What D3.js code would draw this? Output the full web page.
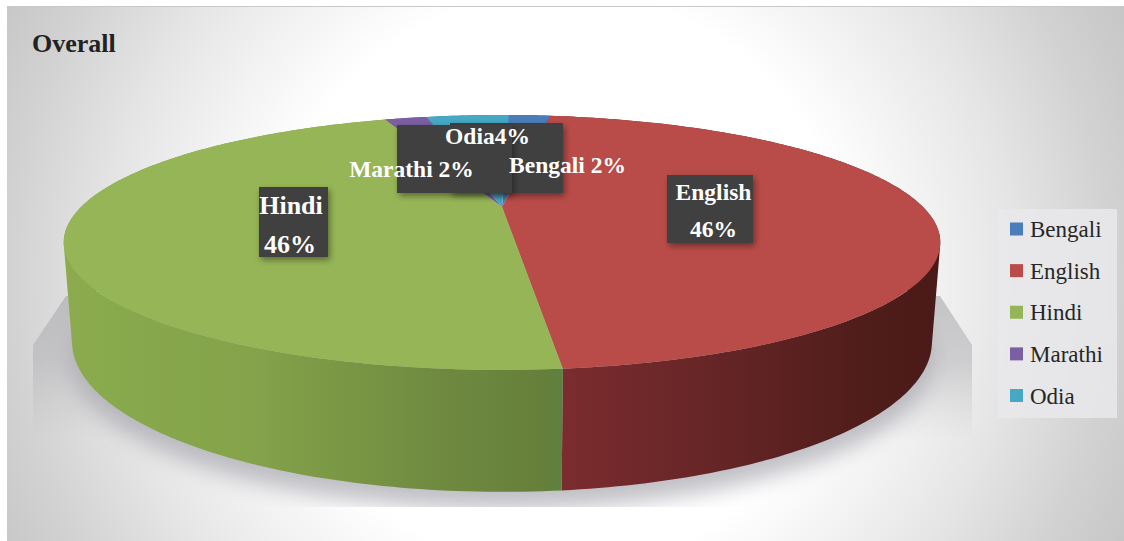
<!DOCTYPE html>
<html>
<head>
<meta charset="utf-8">
<script src="https://cdn.jsdelivr.net/npm/d3@7/dist/d3.min.js"></script>
<style>
html,body{margin:0;padding:0;background:#fff;}
svg{display:block;}
text{font-family:"Liberation Serif","Times New Roman",serif;}
</style>
</head>
<body>
<div id="chart"></div>
<script>
// Language shares for the whole sample
const chartTitle = "Overall";
const languages = ["Bengali", "English", "Hindi", "Marathi", "Odia"];
const shares = [2, 46, 46, 2, 4];
const topColours = ["#4a7ebb", "#b94c48", "#96b556", "#7b5ea3", "#46a8c4"];

const W = 1124, H = 541;
const svg = d3.select("#chart").append("svg").attr("width", W).attr("height", H);
const defs = svg.append("defs");

const colour = d3.scaleOrdinal().domain(languages).range(topColours);
const rows = languages.map((name, i) => ({name, share: shares[i]}));

// Slices run clockwise from just right of the far edge
const pie = d3.pie().value(d => d.share).sort(null)
  .startAngle(1.2 * Math.PI / 180)
  .endAngle((360 + 1.2) * Math.PI / 180);
const slices = pie(rows);

// A disc seen in perspective: k shortens the far half against the near half
const k = -0.278;
const topDisc = {x0: 502, y0: 207, b: 421, a: 117.6};
const baseDisc = {x0: 502, y0: 300, b: 413, a: 138.5};
const project = (disc, t) => {
  const u = Math.sin(t), v = -Math.cos(t), w = 1 + k * v;
  return [disc.x0 + disc.b * u / w, disc.y0 + disc.a * v / w];
};
const rimAngles = (a, b) => {
  const n = Math.max(2, Math.ceil((b - a) * 60));
  return d3.range(n + 1).map(i => a + (b - a) * i / n);
};
const path = d3.line();

// Panel background, brightest through the middle and greying toward the sides
const bg = defs.append("radialGradient").attr("id", "panelBg")
  .attr("gradientUnits", "userSpaceOnUse")
  .attr("cx", 560).attr("cy", 280).attr("r", 640);
[[0, "#ffffff"], [0.45, "#ffffff"], [0.7, "#e6e6e6"], [0.86, "#d2d2d2"], [1, "#c4c4c4"]]
  .forEach(s => bg.append("stop").attr("offset", s[0]).attr("stop-color", s[1]));
svg.append("rect").attr("x", 7).attr("y", 6).attr("width", W - 7).attr("height", H - 6)
  .attr("fill", "url(#panelBg)");
svg.append("line").attr("x1", 7).attr("x2", W).attr("y1", 6.5).attr("y2", 6.5)
  .attr("stroke", "#c8c8c8");

// Floor shadow beneath the disc
defs.append("clipPath").attr("id", "floorClip").append("rect")
  .attr("x", 0).attr("y", 0).attr("width", W).attr("height", 507);
const floorFade = defs.append("linearGradient").attr("id", "floorFade")
  .attr("gradientUnits", "userSpaceOnUse").attr("x1", 0).attr("x2", 0).attr("y1", 300).attr("y2", 440);
[[0, "#a8a8ac", 0.6], [0.45, "#b0b0b4", 0.5], [1, "#c0c0c2", 0]]
  .forEach(s => floorFade.append("stop").attr("offset", s[0]).attr("stop-color", s[1]).attr("stop-opacity", s[2]));
const soft = defs.append("filter").attr("id", "softShadow")
  .attr("x", "-10%").attr("y", "-20%").attr("width", "120%").attr("height", "140%");
soft.append("feGaussianBlur").attr("stdDeviation", 11);
const floor = svg.append("g").attr("clip-path", "url(#floorClip)");
floor.append("path")
  .attr("d", "M33,345L66,296L940,296L972,345L972,460L33,460Z")
  .attr("fill", "url(#floorFade)");
floor.append("path")
  .attr("d", path(rimAngles(0, 2 * Math.PI).map(t => {
    const p = project(baseDisc, t);
    return [p[0], p[1] + 17];
  })) + "Z")
  .attr("fill", "#a6a6ae").attr("opacity", 0.72).attr("filter", "url(#softShadow)");

// Wall shading across each large slice
const wallStops = {
  English: [[560, "#7b2c2e"], [720, "#652526"], [860, "#501d1a"], [940, "#4a1a18"]],
  Hindi: [[64, "#8bab4e"], [250, "#84a34a"], [450, "#6e893f"], [540, "#66803b"], [562, "#5e8040"]],
  Bengali: [[500, "#2c4f78"], [560, "#2c4f78"]],
  Marathi: [[380, "#4c3a66"], [430, "#4c3a66"]],
  Odia: [[420, "#2a6a7c"], [510, "#2a6a7c"]]
};
languages.forEach(name => {
  const stops = wallStops[name];
  const lo = stops[0][0], hi = stops[stops.length - 1][0];
  const g = defs.append("linearGradient").attr("id", "wall" + name)
    .attr("gradientUnits", "userSpaceOnUse")
    .attr("x1", lo).attr("x2", hi).attr("y1", 0).attr("y2", 0);
  stops.forEach(s => g.append("stop").attr("offset", (s[0] - lo) / (hi - lo)).attr("stop-color", s[1]));
});

// Side walls first: strips between the two rims, all wound the same way and
// merged into one path per slice, so the silhouette stays filled without seams.
// The top face then covers whatever lies behind them.
const wallPath = d => d3.pairs(rimAngles(d.startAngle, d.endAngle)).map(([a, b]) => {
  const quad = [project(topDisc, a), project(topDisc, b), project(baseDisc, b), project(baseDisc, a)];
  return path(d3.polygonArea(quad) < 0 ? quad.reverse() : quad) + "Z";
}).join("");
svg.append("g").selectAll("path").data(slices).join("path")
  .attr("d", wallPath)
  .attr("fill", d => `url(#wall${d.data.name})`);

// Top face
svg.append("g").selectAll("path").data(slices).join("path")
  .attr("d", d => path([[topDisc.x0, topDisc.y0]].concat(rimAngles(d.startAngle, d.endAngle).map(t => project(topDisc, t)))) + "Z")
  .attr("fill", d => colour(d.data.name));

// Dark label plates with a soft drop shadow
const plateShadow = defs.append("filter").attr("id", "plateShadow")
  .attr("x", "-20%").attr("y", "-20%").attr("width", "140%").attr("height", "140%");
plateShadow.append("feDropShadow").attr("dx", 2).attr("dy", 3).attr("stdDeviation", 3)
  .attr("flood-color", "#000").attr("flood-opacity", 0.4);
const plates = [
  {x: 259, y: 187, w: 69, h: 70},
  {x: 667, y: 175, w: 86, h: 68},
  {x: 450, y: 123, w: 113, h: 70},
  {x: 397, y: 125, w: 115, h: 68}
];
svg.append("g").selectAll("rect").data(plates).join("rect")
  .attr("x", d => d.x).attr("y", d => d.y).attr("width", d => d.w).attr("height", d => d.h)
  .attr("fill", "#404040").attr("filter", "url(#plateShadow)");

// Slice labels
const pct = name => shares[languages.indexOf(name)] + "%";
const labels = [
  {text: "Hindi", x: 291, y: 214, size: 26},
  {text: pct("Hindi"), x: 290, y: 253, size: 26},
  {text: "English", x: 713.5, y: 200, size: 23.5},
  {text: pct("English"), x: 713.5, y: 237, size: 23.5},
  {text: "Odia" + pct("Odia"), x: 487.5, y: 144, size: 23.5},
  {text: "Marathi " + pct("Marathi"), x: 411.5, y: 177, size: 23.5},
  {text: "Bengali " + pct("Bengali"), x: 567.5, y: 173, size: 23.5}
];
svg.append("g").selectAll("text").data(labels).join("text")
  .attr("x", d => d.x).attr("y", d => d.y)
  .attr("text-anchor", "middle")
  .attr("font-size", d => d.size).attr("font-weight", "bold")
  .attr("fill", "#ffffff").text(d => d.text);

// Title
svg.append("text").attr("x", 32).attr("y", 52)
  .attr("font-size", 26).attr("font-weight", "bold").attr("fill", "#222222")
  .text(chartTitle);

// Legend
svg.append("rect").attr("x", 998).attr("y", 209).attr("width", 119).attr("height", 209)
  .attr("fill", "#e9e9ec").attr("opacity", 0.85);
const legendY = d3.scalePoint().domain(languages).range([229, 395.5]);
const legend = svg.append("g").selectAll("g").data(languages).join("g")
  .attr("transform", d => `translate(1010,${legendY(d)})`);
legend.append("rect").attr("x", 0).attr("y", -6.5).attr("width", 13).attr("height", 13)
  .attr("fill", d => colour(d));
legend.append("text").attr("x", 20).attr("y", 8)
  .attr("font-size", 23).attr("fill", "#262626").text(d => d);
</script>
</body>
</html>
